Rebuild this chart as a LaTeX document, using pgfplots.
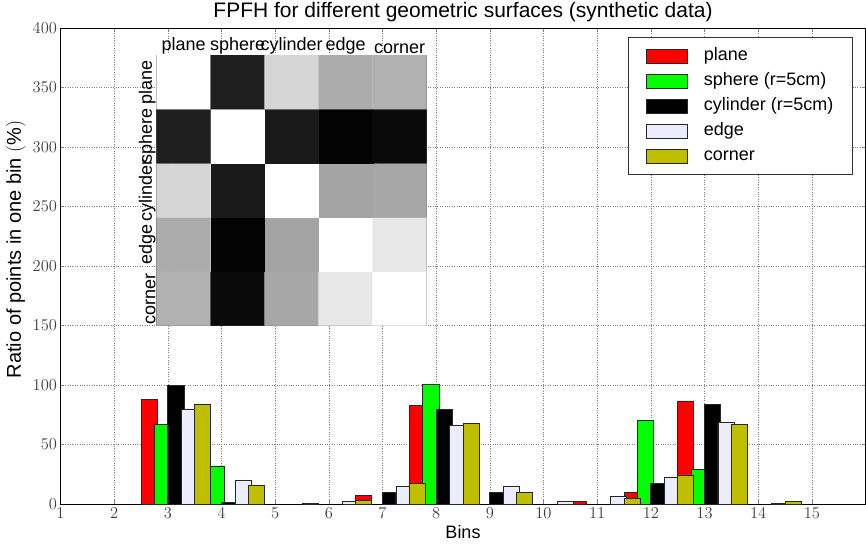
\RequirePackage{fix-cm}
\documentclass[border=0pt]{standalone}
\usepackage{fontspec}
\setmainfont{Liberation Sans}
\usepackage{pgfplots}
\pgfplotsset{compat=1.18}

\definecolor{edgecol}{RGB}{236,237,252}
\definecolor{cornercol}{RGB}{191,191,0}

% one style for all bar series: width 0.3 bins, shifted per series
\pgfplotsset{
  fpfhbar/.style={ybar, bar width=0.3, draw=black!85, line width=0.7pt},
}

\begin{document}
\begin{tikzpicture}
\begin{axis}[
  at={(0pt,0pt)}, anchor=south west,
  scale only axis, width=805pt, height=476pt,
  xmin=1, xmax=16, ymin=0, ymax=400,
  xtick={1,...,15}, ytick={0,50,...,400},
  grid=major, grid style={dotted, black!50, line width=0.45pt},
  tick align=inside, major tick length=4pt,
  axis line style={line width=0.8pt},
  tick label style={font=\fontsize{16.5}{17}\selectfont, black!75},
  title={FPFH for different geometric surfaces (synthetic data)},
  title style={font=\fontsize{21}{23}\selectfont, yshift=-3pt},
  xlabel={Bins},
  ylabel={Ratio of points in one bin $(\%)$},
  xlabel style={font=\fontsize{18}{20}\selectfont},
  ylabel style={font=\fontsize{20}{22}\selectfont, at={(ticklabel cs:0.535)}},
  legend style={at={(0.705,0.9805)}, anchor=north west,
    draw=black!80, fill=white, line width=0.8pt,
    font=\fontsize{18}{18}\selectfont,
    inner xsep=18pt, inner ysep=9pt, row sep=6pt,
    nodes={inner sep=1pt, text height=13pt, text depth=4pt}},
  legend cell align=left,
  legend image code/.code={
    \draw[#1, line width=0.7pt] (0pt,-7pt) rectangle (41pt,7pt);
    \path[draw=none, fill=none] (0pt,0pt) -- (56pt,0pt);},
]
% bins 1..15, series offsets -0.35 .. +0.65
\addplot[fpfhbar, bar shift=-0.35, fill=red] coordinates
  {(3,88) (7,7) (8,83) (11,2.5) (12,10) (13,86.6)};
\addlegendentry{plane}
\addplot[fpfhbar, bar shift=-0.10, fill=green] coordinates
  {(3,67.2) (4,32) (8,100.3) (12,70.3) (13,29)};
\addlegendentry{sphere (r=5cm)}
\addplot[fpfhbar, bar shift=0.15, fill=black] coordinates
  {(3,99.4) (4,1) (7,10) (8,79.8) (9,10) (12,17) (13,84)};
\addlegendentry{cylinder (r=5cm)}
\addplot[fpfhbar, bar shift=0.40, fill=edgecol] coordinates
  {(3,79.5) (4,20.2) (6,2.5) (7,14.5) (8,65.8) (9,14.5) (10,2.5)
   (11,6.7) (12,22.4) (13,68.9) (14,0.5)};
\addlegendentry{edge}
\addplot[fpfhbar, bar shift=0.65, fill=cornercol] coordinates
  {(3,83.7) (4,16) (5,0.5) (6,2.8) (7,17.6) (8,67.5) (9,10)
   (11,4.7) (12,24.4) (13,66.6) (14,2.5)};
\addlegendentry{corner}
\end{axis}

% inset: histogram intersection kernel
\begin{axis}[
  at={(96.2pt,178.3pt)}, anchor=south west,
  scale only axis, width=270pt, height=270.7pt,
  xmin=-0.5, xmax=4.5, ymin=-0.5, ymax=4.5,
  enlargelimits=false,
  xtick={0,...,4}, ytick={0,...,4},
  xticklabels={plane,sphere,cylinder,edge,corner},
  yticklabels={corner,edge,cylinder,sphere,plane},
  xticklabel pos=upper,
  tick label style={font=\fontsize{18}{18}\selectfont},
  xticklabel style={inner sep=1pt},
  yticklabel style={rotate=90, anchor=south, inner sep=1pt},
  tick align=inside, major tick length=3pt, tick style={black!50},
  axis line style={black!60, line width=0.6pt},
  colormap={bw}{gray(0cm)=(0); gray(1cm)=(1)},
  point meta min=0, point meta max=1,
]
\addplot[matrix plot*, mesh/cols=5, point meta=explicit] table[meta=c] {
x y c
0 0 0.69
1 0 0.04
2 0 0.65
3 0 0.90
4 0 1.00
0 1 0.67
1 1 0.01
2 1 0.64
3 1 1.00
4 1 0.90
0 2 0.83
1 2 0.10
2 2 1.00
3 2 0.64
4 2 0.65
0 3 0.12
1 3 1.00
2 3 0.10
3 3 0.01
4 3 0.04
0 4 1.00
1 4 0.12
2 4 0.83
3 4 0.67
4 4 0.69
};
\node[below, inner sep=2pt, font=\fontsize{18}{18}\selectfont]
  at (axis description cs:0.5,0) {Histogram Intersection Kernel};
\end{axis}

\pgfresetboundingbox
\path (-60.5pt,-43pt) rectangle (805.5pt,504pt);
\end{tikzpicture}
\end{document}
